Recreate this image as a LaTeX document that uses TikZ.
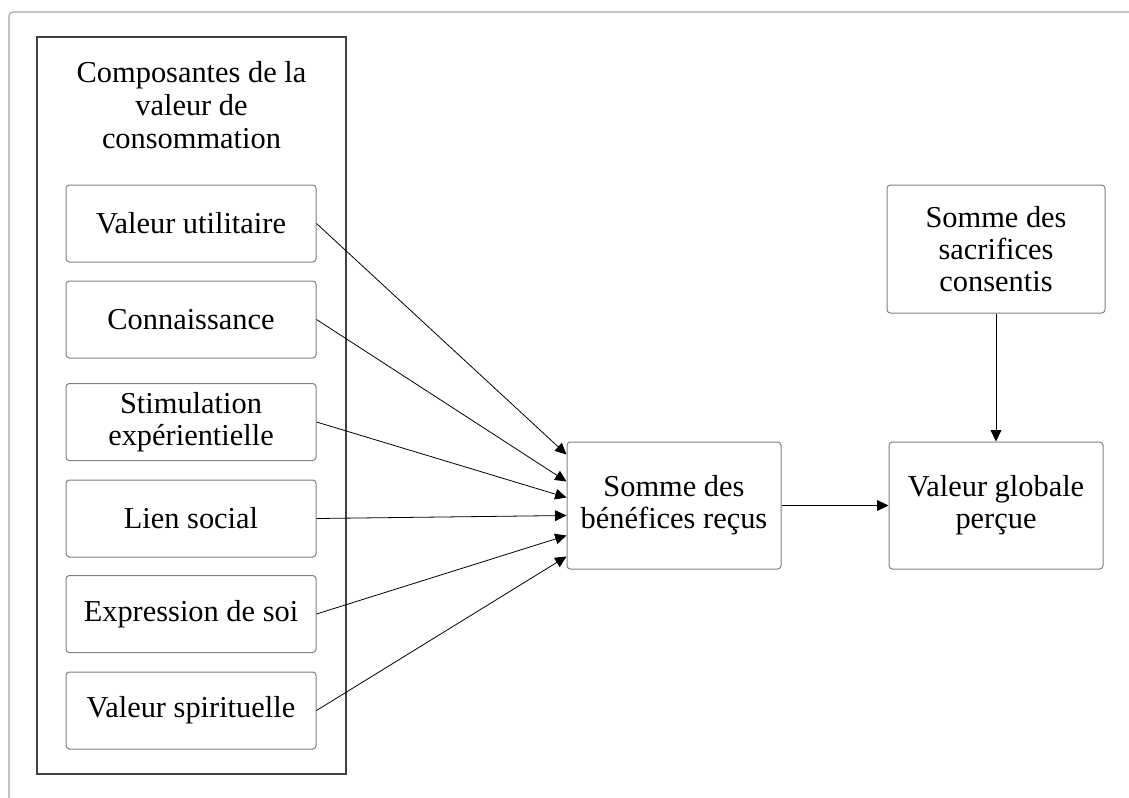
\documentclass[tikz,border=0pt]{standalone}
\usepackage{fontspec}
\setmainfont{Liberation Serif}
\usetikzlibrary{arrows.meta,calc}
\tikzset{
  comp/.style={draw=black!50, line width=0.75pt, rounded corners=2.5pt, align=center,
    inner sep=0pt, minimum width=187.5pt, minimum height=57.75pt,
    font=\fontsize{22.8}{24}\selectfont},
  bigbox/.style={draw=black!50, line width=0.75pt, rounded corners=2.5pt, align=center,
    inner sep=0pt, minimum width=160.5pt, minimum height=95.25pt,
    font=\fontsize{22.8}{24}\selectfont},
  conn/.style={line width=0.6pt, -{Triangle[length=8.5pt,width=8pt]}},
}
\begin{document}
\begin{tikzpicture}[x=0.75pt,y=-0.75pt]
\useasboundingbox (0,0) rectangle (1129,797);
% page frame
\draw[black!35, line width=0.9pt, rounded corners=3pt] (9,830) -- (9,12) -- (1160,12);
% outer container
\node[draw=black!75, line width=0.9pt, minimum width=231.75pt, minimum height=552.75pt, inner sep=0pt] (outer) at (191.5,405.5) {};
\node[align=center, font=\fontsize{22.8}{24.75}\selectfont] (title) at (191.5,105) {Composantes de la\\valeur de\\consommation};
% components
\node[comp] (c1) at (191,223.5) {Valeur utilitaire};
\node[comp] (c2) at (191,319.5) {Connaissance};
\node[comp] (c3) at (191,422) {Stimulation\\expérientielle};
\node[comp] (c4) at (191,518.5) {Lien social};
\node[comp] (c5) at (191,614) {Expression de soi};
\node[comp] (c6) at (191,710.5) {Valeur spirituelle};
% right boxes
\node[bigbox] (sb) at (674,505.5) {Somme des\\bénéfices reçus};
\node[bigbox] (vg) at (996,505.5) {Valeur globale\\perçue};
\node[bigbox, minimum width=163.5pt, minimum height=96pt] (ss) at (996,249) {Somme des\\sacrifices\\consentis};
% connectors
\draw[conn] (c1.east) -- ($(sb.north west)+(0,13)$);
\draw[conn] (c2.east) -- ($(sb.north west)+(0,40)$);
\draw[conn] (c3.east) -- ($(sb.north west)+(0,56)$);
\draw[conn] (c4.east) -- ($(sb.north west)+(0,74)$);
\draw[conn] (c5.east) -- ($(sb.north west)+(0,94)$);
\draw[conn] (c6.east) -- ($(sb.north west)+(0,115)$);
\draw[conn] (sb.east) -- (vg.west);
\draw[conn] (ss.south) -- (vg.north);
\end{tikzpicture}
\end{document}
